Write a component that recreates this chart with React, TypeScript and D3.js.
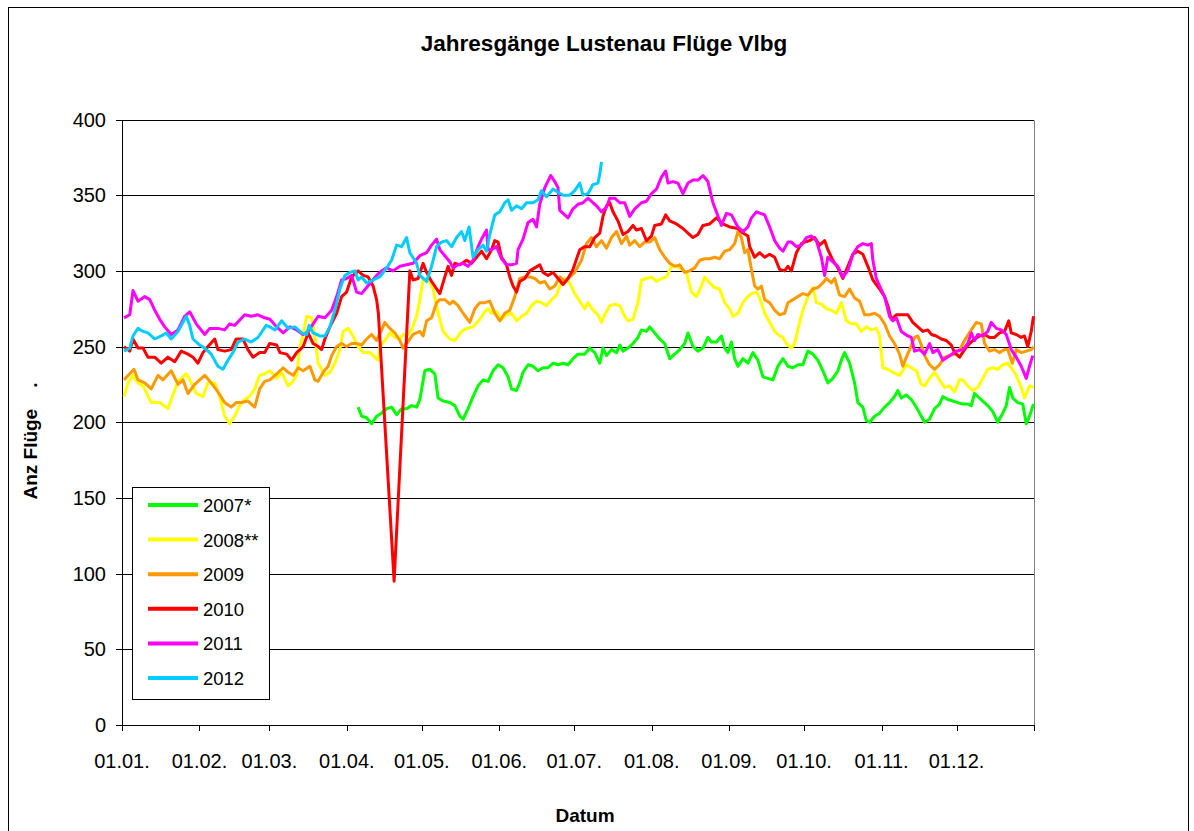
import React from 'react';
import * as d3 from 'd3';

// day of year (0 = 01.01.), flights per day
const s2007: [number, number][] = [[94.5,210],[95.9,204],[97.9,203],[99.9,199],[101.9,204],[103.9,206],[105.9,209],[107.9,210],[109.9,205],[111.9,209],[113.9,209],[115.9,211],[117.9,210],[119.2,215],[121.2,234],[123.2,235],[125.2,232],[126.5,216],[128.5,214],[131.2,213],[133.2,211],[135.2,204],[136.5,202],[138.5,209],[140.5,217],[142.5,224],[144.5,228],[146.5,227],[148.5,234],[150.5,238],[152.5,236],[154.5,230],[155.9,222],[157.9,221],[159.2,226],[160.5,233],[162.5,238],[164.5,237],[166.5,234],[168.5,236],[170.5,236],[172.5,239],[174.5,238],[176.5,239],[178.5,238],[180.5,242],[182.5,245],[185.2,245],[187.2,249],[189.2,246],[191.2,239],[192.5,249],[193.9,244],[195.9,248],[197.9,246],[199.2,251],[200.5,247],[202.5,249],[204.5,252],[206.5,256],[207.9,261],[209.9,260],[211.2,263],[213.2,259],[215.2,255],[217.2,252],[219.2,242],[221.2,245],[223.2,248],[225.2,252],[226.5,259],[228.5,250],[230.5,247],[232.5,249],[234.5,256],[235.9,253],[237.9,253],[239.9,257],[241.2,249],[242.5,246],[243.9,253],[245.2,242],[246.5,237],[248.5,242],[250.5,239],[252.5,246],[254.5,241],[256.5,230],[258.5,229],[260.5,228],[262.5,237],[264.5,242],[266.5,237],[268.5,236],[270.5,238],[272.5,238],[274.5,247],[276.5,245],[278.5,241],[280.5,234],[282.5,226],[284.5,229],[286.5,234],[287.9,241],[289.2,246],[291.2,239],[293.2,226],[294.5,213],[296.5,210],[297.9,201],[299.2,200],[301.2,204],[303.2,206],[305.2,210],[307.2,213],[309.2,217],[310.5,221],[311.9,216],[313.9,218],[315.9,215],[317.9,210],[319.9,204],[321.2,200],[323.2,202],[325.2,209],[327.2,212],[328.5,217],[330.5,215],[332.5,214],[334.5,213],[336.5,212],[338.5,212],[339.9,211],[341.2,219],[342.5,217],[344.5,214],[346.5,211],[348.5,207],[350.5,200],[352.5,206],[353.9,211],[355.2,223],[356.5,216],[358.5,213],[360.5,212],[361.9,199],[363.2,204],[364.8,212]];

const s2008: [number, number][] = [[0.8,217],[2.4,226],[4.4,231],[6.4,226],[8.4,224],[11.7,213],[15.1,213],[18.4,209],[19.7,215],[22.4,227],[25.7,232],[27.7,226],[29.7,219],[32.4,217],[34.4,226],[37.1,226],[39.1,217],[41.1,204],[43.1,199],[45.1,204],[47.1,211],[49.1,215],[51.1,217],[53.1,222],[55.1,231],[57.1,232],[59.2,234],[61.9,229],[63.9,233],[66.5,224],[67.9,226],[69.9,231],[71.2,250],[72.5,258],[73.9,270],[75.9,269],[77.2,257],[78.5,239],[79.9,235],[81.2,231],[83.2,233],[85.2,239],[87.2,248],[88.5,260],[90.5,262],[92.5,257],[93.9,251],[95.2,249],[96.5,246],[99.2,246],[101.2,243],[102.5,241],[103.2,250],[105.2,254],[107.2,259],[109.2,256],[111.2,255],[112.5,258],[113.9,257],[115.9,261],[117.9,270],[119.2,281],[120.5,294],[122.5,295],[124.5,288],[126.5,272],[128.5,260],[131.2,255],[133.2,254],[135.9,260],[137.9,262],[140.5,263],[143.2,268],[145.2,273],[146.5,275],[147.9,272],[149.9,273],[151.9,268],[153.9,271],[155.9,272],[157.9,267],[159.9,270],[161.9,272],[163.9,277],[165.9,280],[167.9,279],[169.9,277],[171.9,281],[173.9,284],[175.2,290],[177.2,295],[179.2,292],[181.2,285],[183.2,280],[185.2,275],[186.5,279],[188.5,274],[190.5,271],[191.9,266],[193.2,271],[195.2,277],[197.2,278],[199.2,277],[201.2,270],[202.5,267],[204.5,268],[206.5,279],[207.9,294],[209.9,295],[211.9,296],[213.9,293],[215.9,295],[217.9,296],[219.9,303],[221.9,303],[223.9,301],[225.9,299],[227.9,286],[229.9,283],[231.9,290],[233.2,296],[235.2,292],[237.2,289],[239.2,288],[241.2,279],[243.2,275],[244.5,270],[246.5,272],[248.5,279],[249.9,282],[251.9,285],[253.9,286],[255.2,282],[257.2,272],[259.2,266],[261.2,260],[263.2,257],[264.5,256],[265.9,252],[267.9,249],[269.2,252],[271.2,266],[272.5,274],[274.5,283],[276.5,289],[277.9,279],[279.9,278],[281.9,275],[283.9,274],[285.9,272],[287.9,279],[289.9,267],[291.9,265],[293.9,265],[295.9,260],[297.9,263],[299.9,261],[301.9,262],[303.2,257],[304.5,236],[306.5,235],[308.5,233],[311.2,231],[313.9,238],[315.9,236],[317.9,234],[319.9,225],[321.2,224],[323.2,229],[325.2,233],[327.2,228],[329.2,223],[331.2,224],[333.2,220],[335.2,228],[336.5,228],[338.5,224],[340.5,221],[342.5,223],[344.5,229],[346.5,235],[348.5,236],[350.5,235],[352.5,238],[354.5,239],[356.3,235],[357.9,231],[359.9,223],[361.2,216],[363.2,224],[364.8,223]];

const s2009: [number, number][] = [[0.8,228],[3.1,232],[4.8,235],[6.4,228],[9.1,226],[11.7,222],[14.4,231],[16.4,228],[19.7,234],[22.4,225],[24.4,228],[26.4,219],[29.1,225],[33.1,231],[35.7,226],[38.4,220],[41.1,213],[43.7,210],[45.7,213],[47.7,213],[50.4,214],[53.1,210],[55.1,222],[57.1,227],[59.2,228],[61.9,232],[64.5,236],[66.5,233],[68.5,231],[70.5,236],[72.5,234],[75.2,237],[77.2,228],[78.5,227],[80.5,233],[82.5,237],[83.9,244],[85.9,250],[87.9,252],[89.9,250],[91.9,252],[93.9,252],[95.9,251],[97.9,255],[99.9,258],[101.9,254],[103.9,261],[105.2,266],[107.2,262],[109.2,259],[111.2,254],[112.5,249],[113.9,252],[116.5,258],[119.2,260],[120.5,257],[121.9,267],[123.9,269],[125.9,279],[127.2,281],[129.2,281],[131.2,278],[132.5,280],[134.5,277],[136.5,272],[139.2,266],[141.2,275],[143.2,279],[145.2,279],[147.2,280],[149.2,272],[151.2,267],[153.2,272],[155.2,274],[157.2,283],[159.2,295],[161.2,296],[163.2,296],[165.2,295],[167.2,292],[169.2,293],[171.2,288],[173.2,290],[175.2,296],[177.2,293],[179.2,296],[181.2,299],[183.9,307],[185.9,318],[187.9,322],[189.9,316],[191.9,320],[193.9,315],[195.9,322],[197.9,326],[199.9,318],[201.9,323],[203.2,317],[205.2,320],[207.2,316],[209.2,319],[211.2,319],[213.2,322],[215.2,314],[217.2,309],[219.2,305],[221.2,303],[223.2,304],[225.2,299],[227.2,300],[229.2,302],[231.2,307],[233.2,308],[235.2,308],[237.2,309],[239.2,308],[241.2,313],[243.2,314],[245.2,318],[246.5,326],[247.9,322],[249.2,312],[250.5,314],[251.9,301],[253.2,290],[254.5,288],[255.9,290],[257.2,281],[259.2,279],[261.2,274],[263.2,271],[265.2,272],[266.5,279],[268.5,281],[270.5,283],[272.5,285],[274.5,284],[276.5,288],[278.5,289],[280.5,292],[281.9,295],[283.9,292],[285.2,295],[287.2,284],[289.2,283],[291.2,288],[293.2,282],[295.2,280],[297.2,271],[299.2,271],[301.2,272],[303.2,270],[305.2,265],[307.2,257],[309.2,252],[311.2,245],[312.5,237],[313.9,243],[315.2,248],[317.2,256],[318.5,257],[319.9,251],[321.2,244],[323.2,238],[325.2,235],[327.2,238],[329.2,243],[331.2,244],[333.2,245],[335.2,248],[337.9,256],[339.9,261],[341.9,266],[343.9,265],[345.2,252],[347.2,247],[349.2,248],[351.2,246],[353.2,248],[354.5,248],[356.3,239],[357.9,248],[359.9,246],[361.9,247],[363.9,248],[364.8,250]];

const s2010: [number, number][] = [[0.8,250],[3.1,247],[4.4,255],[6.4,249],[8.4,249],[10.4,243],[13.1,243],[15.7,239],[18.4,243],[21.1,240],[23.7,247],[26.4,245],[28.4,243],[30.4,239],[32.4,246],[34.4,250],[37.1,255],[38.4,248],[41.1,247],[43.7,248],[45.7,255],[48.4,255],[50.4,248],[52.4,243],[55.1,246],[57.1,246],[59.1,252],[61.9,251],[63.2,246],[65.9,245],[67.9,241],[69.9,246],[72.5,250],[74.5,259],[76.5,252],[78.5,250],[79.9,248],[81.2,255],[83.2,263],[85.9,272],[87.9,283],[89.9,286],[91.9,296],[94.5,300],[96.5,297],[98.5,296],[100.5,290],[101.9,281],[102.6,272],[108.9,95],[115.2,300],[116.5,294],[118.5,295],[120.5,305],[121.9,299],[123.9,293],[127.2,285],[129.2,296],[130.5,303],[131.9,297],[133.2,305],[135.2,304],[137.9,307],[139.9,305],[141.9,309],[143.9,313],[145.9,308],[147.9,314],[149.2,320],[150.5,319],[151.9,309],[153.9,304],[155.2,296],[156.5,290],[157.9,286],[159.2,293],[161.2,295],[163.2,300],[165.2,302],[167.2,304],[168.5,299],[170.5,297],[172.5,299],[174.5,295],[176.5,291],[178.5,295],[180.5,301],[183.2,314],[185.2,316],[187.2,316],[189.2,322],[191.2,325],[192.5,336],[193.9,343],[195.2,345],[196.5,339],[198.5,333],[200.5,324],[202.5,326],[204.5,330],[205.9,327],[207.9,328],[209.9,320],[211.9,323],[213.2,330],[215.9,331],[217.6,337],[219.2,333],[221.9,331],[224.5,328],[226.5,325],[228.5,322],[230.5,324],[232.5,330],[235.2,331],[237.9,335],[240.5,331],[243.2,329],[246.5,328],[248.5,325],[250.5,323],[251.2,316],[253.2,309],[255.2,312],[257.2,309],[259.2,311],[261.2,309],[263.2,301],[265.2,300],[266.5,303],[267.9,300],[269.9,312],[271.9,318],[273.2,319],[275.2,320],[277.2,322],[279.2,317],[281.2,320],[282.5,314],[284.5,307],[286.5,302],[288.5,295],[290.5,303],[292.5,311],[294.5,313],[296.5,311],[298.5,303],[300.5,294],[303.2,288],[305.2,283],[306.5,277],[307.9,268],[309.9,271],[312.5,271],[314.5,271],[316.5,266],[318.5,263],[320.5,260],[322.5,261],[323.9,258],[325.9,257],[327.9,255],[329.9,254],[331.9,251],[333.2,246],[335.2,243],[337.2,248],[339.2,252],[341.2,255],[343.2,257],[345.2,258],[347.2,256],[349.2,256],[351.2,259],[353.2,260],[354.9,267],[355.9,259],[357.9,258],[359.9,256],[361.2,257],[362.5,250],[363.9,260],[364.8,270]];

const s2011: [number, number][] = [[0.8,269],[3.1,271],[4.4,287],[6.4,280],[9.1,283],[11.1,281],[13.1,274],[15.1,268],[17.1,263],[19.7,258],[22.4,261],[25.1,270],[27.1,273],[29.7,265],[33.1,258],[35.1,262],[38.4,262],[41.1,261],[43.1,265],[45.1,264],[49.1,271],[51.7,270],[54.4,271],[57.1,269],[59.2,268],[61.9,263],[64.5,259],[67.2,263],[69.9,261],[72.5,258],[74.5,260],[76.5,265],[78.5,270],[81.2,269],[83.9,274],[85.9,283],[87.9,294],[89.9,295],[91.9,297],[93.9,286],[95.9,285],[97.9,289],[99.9,293],[101.9,297],[103.9,300],[105.9,302],[108.5,300],[111.2,303],[113.9,304],[116.5,305],[119.2,310],[121.9,312],[123.9,317],[125.9,321],[127.2,314],[129.2,310],[131.2,306],[132.5,302],[134.5,304],[136.5,305],[138.5,303],[140.5,307],[142.5,316],[143.9,321],[145.9,327],[146.5,314],[147.9,314],[149.9,316],[151.9,308],[153.9,304],[155.9,304],[157.9,305],[158.5,314],[160.5,321],[162.5,332],[164.5,334],[165.9,329],[167.2,344],[169.2,355],[171.6,363],[173.2,359],[174.5,355],[175.2,340],[177.2,337],[178.5,335],[180.5,341],[182.5,344],[184.5,345],[186.5,348],[188.5,345],[189.9,343],[191.9,339],[193.9,342],[195.2,348],[197.2,348],[199.2,345],[201.2,345],[203.2,336],[205.2,341],[207.9,345],[209.9,346],[211.9,351],[213.9,354],[215.9,362],[217.6,366],[218.5,358],[220.5,359],[222.5,358],[224.5,351],[226.5,358],[228.5,360],[230.5,360],[232.5,363],[234.5,359],[236.5,345],[237.9,339],[239.9,330],[241.9,338],[243.9,337],[246.5,329],[248.5,326],[250.5,329],[251.9,335],[253.9,339],[257.2,337],[259.2,329],[261.2,320],[263.2,315],[264.5,313],[266.5,319],[267.9,319],[269.9,316],[271.9,317],[273.9,322],[275.9,323],[277.9,320],[279.9,309],[281.2,297],[282.5,309],[284.5,306],[286.5,303],[288.5,296],[290.5,300],[292.5,311],[294.5,316],[296.5,318],[298.5,317],[299.9,318],[300.5,307],[301.9,295],[303.2,290],[305.2,283],[307.2,270],[308.5,267],[309.9,269],[311.9,260],[314.5,257],[315.9,256],[317.2,247],[319.2,248],[321.2,245],[323.2,252],[324.5,246],[326.5,248],[328.5,241],[331.2,244],[333.9,247],[336.5,248],[338.5,252],[339.9,259],[341.2,254],[342.5,258],[344.5,257],[346.5,260],[347.9,266],[349.9,262],[351.9,261],[353.9,258],[355.9,248],[357.9,243],[359.9,237],[361.9,229],[363.2,237],[364.5,244]];

const s2012: [number, number][] = [[0.8,247],[3.1,249],[4.4,257],[6.4,262],[8.4,260],[10.4,259],[13.1,255],[15.7,257],[17.7,259],[19.7,255],[22.4,260],[25.7,270],[27.1,264],[28.4,255],[31.1,251],[33.1,249],[35.7,245],[38.4,237],[40.4,235],[42.4,241],[44.4,246],[46.4,253],[49.1,255],[51.7,253],[54.4,256],[57.7,264],[59.2,263],[61.2,261],[63.9,267],[66.5,262],[69.2,263],[71.9,259],[73.9,258],[74.9,264],[76.5,259],[79.2,257],[81.2,257],[83.2,263],[85.2,274],[87.2,288],[89.2,297],[91.2,299],[93.2,300],[94.5,294],[95.9,296],[97.9,292],[100.5,294],[103.2,296],[105.9,302],[107.9,307],[109.9,317],[111.9,316],[113.9,322],[115.2,312],[117.9,305],[119.2,297],[121.9,293],[123.9,303],[125.9,316],[127.9,319],[129.9,320],[131.9,316],[133.9,322],[135.9,326],[137.2,320],[138.9,329],[140.5,309],[142.5,314],[144.5,317],[145.9,313],[147.2,324],[149.2,337],[151.2,339],[153.2,345],[154.5,347],[155.9,340],[157.9,343],[159.9,341],[161.9,345],[164.5,345],[166.5,347],[167.9,353],[169.9,349],[172.5,354],[174.5,352],[176.5,350],[179.2,350],[181.2,353],[183.2,358],[184.5,350],[186.5,351],[188.5,357],[190.5,358],[191.2,364],[191.9,372]];

const seriesNames = ['2007*', '2008**', '2009', '2010', '2011', '2012'];
const seriesColors = ['#00ff00', '#ffff00', '#ff9900', '#ff0000', '#ff00ff', '#00ccff'];
const seriesData = [s2007, s2008, s2009, s2010, s2011, s2012];

const monthStarts = [0, 31, 59, 90, 120, 151, 181, 212, 243, 273, 304, 334];
const monthLabels = ['01.01.', '01.02.', '01.03.', '01.04.', '01.05.', '01.06.', '01.07.', '01.08.', '01.09.', '01.10.', '01.11.', '01.12.'];
const yTicks = [0, 50, 100, 150, 200, 250, 300, 350, 400];

const W = 1194, H = 831;
const left = 122, right = 1034, top = 119.5, bottom = 725;
const font = 'Arial, "Liberation Sans", sans-serif';

export default function App() {
  const x = d3.scaleLinear().domain([0, 365]).range([left, right]);
  const y = d3.scaleLinear().domain([0, 400]).range([bottom, top]);
  const line = d3.line<[number, number]>().x(d => x(d[0])).y(d => y(d[1]));

  return (
    <svg width={W} height={H} style={{ position: 'absolute', left: 0, top: 0, background: '#fff' }} fontFamily={font}>
      <rect x={8.5} y={7.5} width={1180} height={840} fill="#fff" stroke="#000" strokeWidth={1} />

      <text x={604} y={51} textAnchor="middle" fontSize={22.5} fontWeight="bold">Jahresgänge Lustenau Flüge Vlbg</text>

      {/* grid */}
      {yTicks.map(t => (
        <line key={t} x1={left} x2={right} y1={Math.round(y(t)) + 0.5} y2={Math.round(y(t)) + 0.5} stroke="#000" strokeWidth={1} />
      ))}
      <line x1={right + 0.5} x2={right + 0.5} y1={Math.round(top) + 0.5} y2={bottom} stroke="#808080" />

      {/* y axis */}
      <line x1={left + 0.5} x2={left + 0.5} y1={Math.round(top)} y2={bottom + 1} stroke="#000" />
      {yTicks.map(t => (
        <g key={t}>
          <line x1={left - 6} x2={left} y1={Math.round(y(t)) + 0.5} y2={Math.round(y(t)) + 0.5} stroke="#000" />
          <text x={106} y={y(t) + 7} textAnchor="end" fontSize={20}>{t}</text>
        </g>
      ))}

      {/* x axis */}
      {monthStarts.map((m, i) => (
        <g key={m}>
          <line x1={Math.round(x(m)) + 0.5} x2={Math.round(x(m)) + 0.5} y1={bottom} y2={bottom + 6} stroke="#000" />
          <text x={x(m)} y={768} textAnchor="middle" fontSize={20}>{monthLabels[i]}</text>
        </g>
      ))}
      <line x1={right + 0.5} x2={right + 0.5} y1={bottom} y2={bottom + 6} stroke="#000" />

      <text x={585} y={822} textAnchor="middle" fontSize={19} fontWeight="bold">Datum</text>
      <text transform="translate(37,441) rotate(-90)" textAnchor="middle" fontSize={19} fontWeight="bold" style={{ whiteSpace: 'pre' }}>{'Anz Flüge    .'}</text>

      {/* series */}
      {seriesData.map((s, i) => (
        <path key={i} d={line(s) || ''} fill="none" stroke={seriesColors[i]} strokeWidth={3} strokeLinejoin="round" />
      ))}

      {/* legend */}
      <rect x={132.5} y={487.5} width={137} height={212} fill="#fff" stroke="#000" />
      {seriesNames.map((n, i) => {
        const ly = 505 + i * 34.6;
        return (
          <g key={n}>
            <line x1={148} x2={198} y1={ly} y2={ly} stroke={seriesColors[i]} strokeWidth={4} />
            <text x={203} y={ly + 7} fontSize={18.5}>{n}</text>
          </g>
        );
      })}
    </svg>
  );
}
